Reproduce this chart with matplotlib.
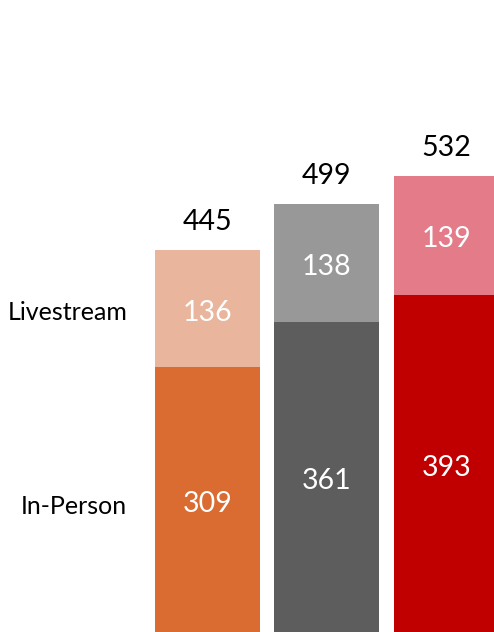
import matplotlib
matplotlib.use("Agg")
import matplotlib.pyplot as plt
import numpy as np

groups = ["A", "B", "C"]
in_person = [309, 361, 393]
livestream = [136, 138, 139]
series_names = ["In-Person", "Livestream"]
bottom_colors = ["#DA6C31", "#5D5D5D", "#C00000"]
top_colors = ["#E9B59C", "#989898", "#E37B89"]

plt.rcParams['font.family'] = ['Lato', 'DejaVu Sans']

fig = plt.figure(figsize=(4.94, 6.32), dpi=100)
ax = fig.add_axes([0, 0, 1, 1])
x = np.arange(len(groups))
w = 0.879
b1 = ax.bar(x, in_person, width=w, color=bottom_colors)
b2 = ax.bar(x, livestream, width=w, bottom=in_person, color=top_colors)

fs = 20.5
for i in range(len(groups)):
    ax.annotate(str(in_person[i]), (x[i], in_person[i] / 2), xytext=(0, -3),
                textcoords='offset points', ha='center', va='center',
                color='white', fontsize=fs)
    ax.annotate(str(livestream[i]), (x[i], in_person[i] + livestream[i] / 2),
                xytext=(0, -3), textcoords='offset points', ha='center',
                va='center', color='white', fontsize=fs)
    total = in_person[i] + livestream[i]
    ax.annotate(str(total), (x[i], total), xytext=(0, 20), textcoords='offset points',
                ha='center', va='center', color='black', fontsize=fs)

# series labels left of first bar
ax.annotate(series_names[0], (x[0] - w / 2, in_person[0] / 2), xytext=(-20, -5),
            textcoords='offset points', ha='right', va='center', fontsize=18)
ax.annotate(series_names[1], (x[0] - w / 2, in_person[0] + livestream[0] / 2),
            xytext=(-20, -3), textcoords='offset points', ha='right', va='center',
            fontsize=18)

ax.set_xlim(-1.736, 2.398)
ax.set_ylim(0, 736.6)
ax.axis('off')
fig.savefig("out.png", dpi=100)
